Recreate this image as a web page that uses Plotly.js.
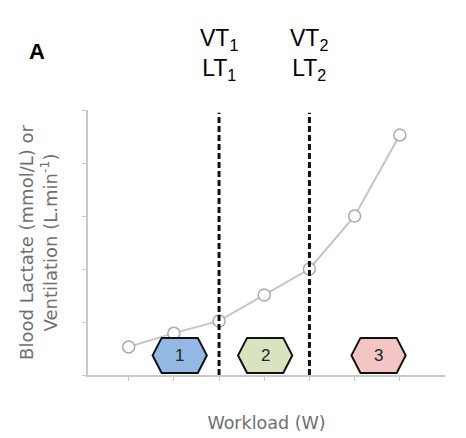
<!DOCTYPE html>
<html><head><meta charset="utf-8">
<script src="https://cdn.plot.ly/plotly-3.0.1.min.js"></script>
<style>html,body{margin:0;padding:0;background:#fff}#chart{width:466px;height:438px}</style>
</head><body><div id="chart"></div>
<script>
const workload = [1, 2, 3, 4, 5, 6, 7];
const response = [0.53, 0.79, 1.02, 1.51, 2.0, 3.0, 4.53];
const thresholdX = [3, 5];
const thresholdLabels = ['VT<sub>1</sub><br>LT<sub>1</sub>', 'VT<sub>2</sub><br>LT<sub>2</sub>'];
const zoneLabels = ['1', '2', '3'];
const zoneCenters = [2.13, 4.02, 6.53];
const zoneColors = ['#93b8e4', '#d8e4c0', '#f3c5c5'];
const panelLabel = 'A';

const hexHalfW = 0.6, hexTip = 0.2, hexY0 = 0.04, hexY1 = 0.7;
const shapes = [];
thresholdX.forEach(x => shapes.push({
  type: 'line', xref: 'x', yref: 'y', x0: x, x1: x, y0: 0, y1: 4.95,
  line: {color: '#111', width: 3, dash: '6px,3px'}, layer: 'above'
}));
const annotations = [];
zoneCenters.forEach((c, i) => {
  const ym = (hexY0 + hexY1) / 2;
  shapes.push({
    type: 'path', xref: 'x', yref: 'y', layer: 'above',
    path: `M ${c - hexHalfW} ${ym} L ${c - hexHalfW + hexTip} ${hexY1} L ${c + hexHalfW - hexTip} ${hexY1} L ${c + hexHalfW} ${ym} L ${c + hexHalfW - hexTip} ${hexY0} L ${c - hexHalfW + hexTip} ${hexY0} Z`,
    fillcolor: zoneColors[i], line: {color: '#111', width: 2}
  });
  annotations.push({x: c, y: ym, xref: 'x', yref: 'y', text: zoneLabels[i], showarrow: false,
    font: {family: 'Liberation Sans, Arial', size: 17, color: '#222'}});
});
thresholdX.forEach((x, i) => annotations.push({
  x: x, y: 1.33, xref: 'x', yref: 'paper', xanchor: 'center', yanchor: 'top', text: thresholdLabels[i], showarrow: false,
  font: {family: 'Liberation Sans, Arial', size: 23, color: '#000'}
}));
annotations.push({x: -0.143, y: 1.22, xref: 'paper', yref: 'paper', xanchor: 'center', yanchor: 'middle',
  text: '<b>' + panelLabel + '</b>', showarrow: false,
  font: {family: 'Liberation Sans, Arial', size: 22, color: '#000'}});

const trace = {
  x: workload, y: response, type: 'scatter', mode: 'lines+markers',
  line: {color: '#c4c4c4', width: 2},
  marker: {size: 12, color: '#fff', line: {color: '#aaaaaa', width: 1.5}},
  cliponaxis: false, hoverinfo: 'skip'
};

const layout = {
  width: 466, height: 438,
  margin: {l: 88, r: 21, t: 110, b: 63},
  paper_bgcolor: '#fff', plot_bgcolor: '#fff',
  showlegend: false,
  font: {family: 'DejaVu Sans', color: '#6f6f6f'},
  xaxis: {
    range: [0.1, 8], showgrid: false, zeroline: false,
    showline: true, linecolor: '#c8c8c8', linewidth: 2,
    ticks: 'outside', ticklen: 4, tickcolor: '#c8c8c8', tickvals: workload, showticklabels: false,
    title: {text: 'Workload (W)', font: {family: 'DejaVu Sans', size: 17.5, color: '#6f6f6f'}, standoff: 37}
  },
  yaxis: {
    range: [0, 5], showgrid: false, zeroline: false,
    showline: true, linecolor: '#c8c8c8', linewidth: 2,
    ticks: 'outside', ticklen: 4, tickcolor: '#c8c8c8', tickvals: [0, 1, 2, 3, 4, 5], showticklabels: false,
    title: {text: 'Blood Lactate (mmol/L) or<br>Ventilation (L.min<sup>-1</sup>)', font: {family: 'DejaVu Sans', size: 18, color: '#6f6f6f'}, standoff: 20}
  },
  shapes: shapes, annotations: annotations
};
Plotly.newPlot('chart', [trace], layout, {displayModeBar: false, staticPlot: true});
</script></body></html>
